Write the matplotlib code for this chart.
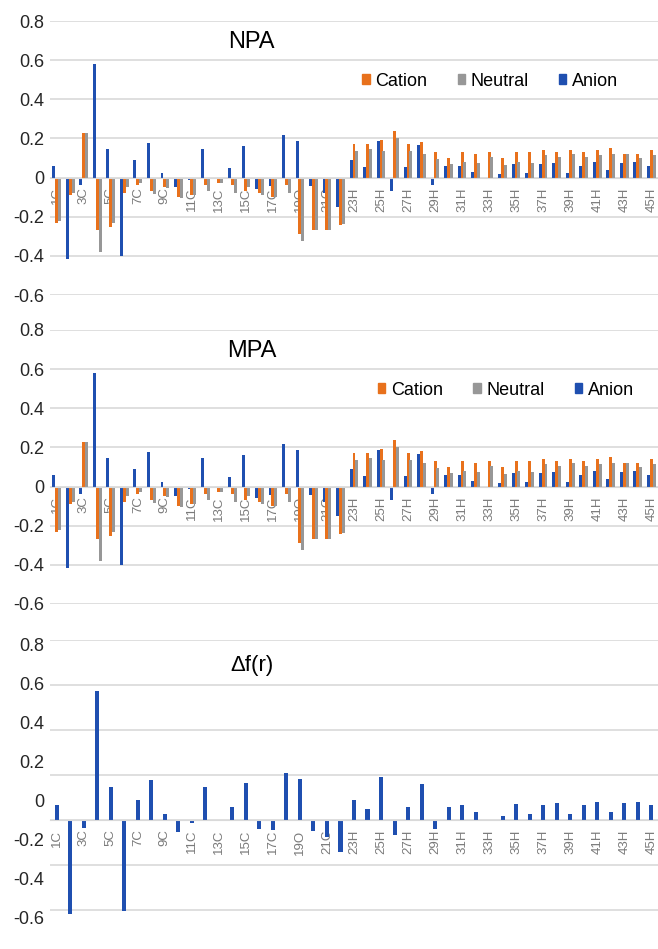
import numpy as np
import matplotlib
matplotlib.use("Agg")
import matplotlib.pyplot as plt
from matplotlib.patches import Patch

plt.rcParams["font.family"] = ["Liberation Sans", "DejaVu Sans"]

# atoms 1..45
elements = ["C"] * 18 + ["O"] + ["C"] * 3 + ["H"] * 23
atom_labels = [f"{i + 1}{e}" for i, e in enumerate(elements)]

npa_cation = [-0.23, -0.09, 0.23, -0.27, -0.25, -0.08, -0.04, -0.07, -0.05, -0.10,
              -0.09, -0.04, -0.03, -0.04, -0.07, -0.08, -0.10, -0.04, -0.29, -0.27,
              -0.27, -0.24, 0.17, 0.17, 0.19, 0.24, 0.17, 0.18, 0.13, 0.10,
              0.13, 0.12, 0.13, 0.10, 0.13, 0.13, 0.14, 0.13, 0.14, 0.13,
              0.14, 0.15, 0.12, 0.12, 0.14]
npa_neutral = [-0.22, -0.08, 0.23, -0.38, -0.23, -0.05, -0.03, -0.085, -0.055, -0.105,
               -0.09, -0.07, -0.03, -0.08, -0.05, -0.09, -0.10, -0.08, -0.325, -0.27,
               -0.27, -0.235, 0.134, 0.144, 0.134, 0.20, 0.134, 0.12, 0.096, 0.07,
               0.082, 0.075, 0.104, 0.064, 0.082, 0.075, 0.113, 0.104, 0.122, 0.104,
               0.113, 0.122, 0.122, 0.10, 0.113]
npa_anion = [0.06, -0.415, -0.037, 0.58, 0.145, -0.40, 0.088, 0.175, 0.022, -0.05,
             -0.01, 0.148, 0.0, 0.05, 0.16, -0.06, -0.045, 0.217, 0.186, -0.045,
             -0.08, -0.148, 0.092, 0.052, 0.186, -0.07, 0.052, 0.165, -0.04, 0.06,
             0.06, 0.03, 0.0, 0.017, 0.068, 0.022, 0.068, 0.075, 0.022, 0.06,
             0.082, 0.04, 0.075, 0.082, 0.06]

mpa_cation = [-0.23, -0.09, 0.23, -0.27, -0.25, -0.08, -0.04, -0.07, -0.05, -0.10,
              -0.09, -0.04, -0.03, -0.04, -0.07, -0.08, -0.10, -0.04, -0.29, -0.27,
              -0.27, -0.24, 0.17, 0.17, 0.19, 0.24, 0.17, 0.18, 0.13, 0.10,
              0.13, 0.12, 0.13, 0.10, 0.13, 0.13, 0.14, 0.13, 0.14, 0.13,
              0.14, 0.15, 0.12, 0.12, 0.14]
mpa_neutral = [-0.22, -0.08, 0.23, -0.38, -0.23, -0.05, -0.03, -0.085, -0.055, -0.105,
               -0.09, -0.07, -0.03, -0.08, -0.05, -0.09, -0.10, -0.08, -0.325, -0.27,
               -0.27, -0.235, 0.134, 0.144, 0.134, 0.20, 0.134, 0.12, 0.096, 0.07,
               0.082, 0.075, 0.104, 0.064, 0.082, 0.075, 0.113, 0.104, 0.122, 0.104,
               0.113, 0.122, 0.122, 0.10, 0.113]
mpa_anion = [0.06, -0.415, -0.037, 0.58, 0.145, -0.40, 0.088, 0.175, 0.022, -0.05,
             -0.01, 0.148, 0.0, 0.05, 0.16, -0.06, -0.045, 0.217, 0.186, -0.045,
             -0.08, -0.148, 0.092, 0.052, 0.186, -0.07, 0.052, 0.165, -0.04, 0.06,
             0.06, 0.03, 0.0, 0.017, 0.068, 0.022, 0.068, 0.075, 0.022, 0.06,
             0.082, 0.04, 0.075, 0.082, 0.06]

delta_f = [0.064, -0.42, -0.037, 0.573, 0.145, -0.407, 0.089, 0.176, 0.027, -0.055,
           -0.012, 0.145, 0.0, 0.056, 0.163, -0.041, -0.047, 0.207, 0.182, -0.049,
           -0.077, -0.141, 0.089, 0.049, 0.19, -0.067, 0.056, 0.159, -0.041, 0.056,
           0.064, 0.033, 0.0, 0.015, 0.07, 0.027, 0.064, 0.077, 0.027, 0.064,
           0.081, 0.037, 0.077, 0.081, 0.064]

ytick_labels = ["0.8", "0.6", "0.4", "0.2", "0", "-0.2", "-0.4", "-0.6"]

ORANGE = "#E8711C"
GRAY = "#979797"
BLUE = "#1F4FB0"
GRID = "#d9d9d9"

W, H = 658, 949
fig = plt.figure(figsize=(W / 100, H / 100), dpi=100)
x = np.arange(len(atom_labels))


def make_axes(top_px, bottom_px):
    return fig.add_axes([50 / W, 1 - bottom_px / H, 608 / W, (bottom_px - top_px) / H])


def style_axes(ax):
    for s in ["top", "right", "left"]:
        ax.spines[s].set_visible(False)
    ax.spines["bottom"].set_position(("data", 0))
    ax.spines["bottom"].set_color(GRID)
    ax.set_xlim(-0.5, len(atom_labels) - 0.5)
    ax.set_xticks(x[::2])
    ax.set_xticklabels(atom_labels[::2], rotation=90, fontsize=9.5, color="#7a7a7a")
    ax.tick_params(axis="x", length=0, pad=7)
    ax.tick_params(axis="y", which="both", length=0, pad=4, labelsize=13,
                   labelcolor="#262626")
    ax.set_axisbelow(True)


def charge_panel(top_px, bottom_px, title, cation, neutral, anion, legend_x):
    ax = make_axes(top_px, bottom_px)
    bw = 0.22
    ax.bar(x - 0.21, anion, bw, color=BLUE, label="Anion")
    ax.bar(x, cation, bw, color=ORANGE, label="Cation")
    ax.bar(x + 0.21, neutral, bw, color=GRAY, label="Neutral")
    ax.set_ylim(-0.6, 0.8)
    ax.set_yticks(np.linspace(0.8, -0.6, 8))
    ax.set_yticklabels(ytick_labels)
    ax.grid(axis="y", color=GRID, linewidth=1.2)
    style_axes(ax)
    ax.text(0.332, 0.923, title, transform=ax.transAxes, ha="center", va="center",
            fontsize=17)
    handles = [Patch(color=ORANGE, label="Cation"), Patch(color=GRAY, label="Neutral"),
               Patch(color=BLUE, label="Anion")]
    ax.legend(handles=handles, ncol=3, loc="center", bbox_to_anchor=(legend_x, 0.781),
              frameon=False, fontsize=13, handlelength=0.4, handleheight=0.4,
              handletextpad=0.3, columnspacing=1.7, borderpad=0)
    return ax


charge_panel(21, 295, "NPA", npa_cation, npa_neutral, npa_anion, 0.724)
charge_panel(330, 604, "MPA", mpa_cation, mpa_neutral, mpa_anion, 0.750)

# bottom panel: grid at 0.2 steps, labels sit on the upper panels' spacing
ax3 = make_axes(640, 921)
ax3.bar(x, delta_f, 0.3, color=BLUE)
ax3.set_ylim(-0.45, 0.8)
ax3.set_yticks(np.arange(-0.4, 0.81, 0.2), minor=True)
ax3.set_yticks(0.778 - 0.1733 * np.arange(8))
ax3.set_yticklabels(ytick_labels)
ax3.grid(axis="y", which="minor", color=GRID, linewidth=1.2)
ax3.grid(axis="y", which="major", visible=False)
style_axes(ax3)
ax3.text(0.332, 0.911, "\u0394f(r)", transform=ax3.transAxes, ha="center", va="center",
         fontsize=16)

fig.savefig("out.png", dpi=100)
